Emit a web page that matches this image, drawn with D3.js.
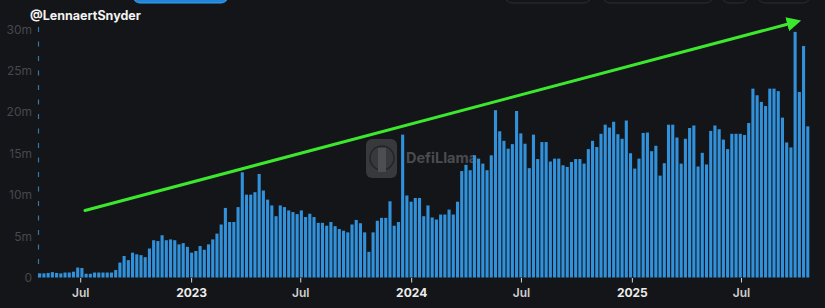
<!DOCTYPE html>
<html lang="en">
<head>
    <meta charset="UTF-8">
    <title>DefiLlama weekly volume</title>
    <script src="https://d3js.org/d3.v7.min.js"></script>
    <style>
        body {
            margin: 0;
            background: #141518;
            overflow: hidden;
        }
        svg {
            display: block;
            font-family: Inter, "Liberation Sans", sans-serif;
        }
    </style>
</head>
<body>
    <svg width="825" height="308"></svg>
    <script>
        // weekly values in millions
        const firstWeek = new Date(2022, 3, 24);
        const values = [
            0.5, 0.5, 0.55, 0.65, 0.55, 0.5, 0.6, 0.6, 0.7, 1.2,
            1.15, 0.45, 0.45, 0.6, 0.6, 0.6, 0.6, 0.6, 0.9, 1.8,
            2.6, 2.1, 3.0, 2.8, 2.7, 2.45, 3.5, 4.5, 4.4, 5.1,
            4.5, 4.6, 4.5, 4.0, 4.15, 3.7, 3.0, 3.2, 3.8, 3.35,
            4.0, 4.6, 5.3, 6.4, 8.4, 6.7, 6.7, 8.5, 12.7, 10.0,
            10.0, 10.3, 12.5, 10.5, 9.4, 8.7, 7.4, 8.7, 8.5, 8.1,
            7.9, 7.65, 8.1, 7.3, 7.7, 7.3, 6.6, 6.6, 6.25, 6.7,
            6.2, 5.85, 5.65, 5.45, 6.4, 6.95, 6.55, 5.45, 3.1, 5.45,
            6.85, 7.2, 7.2, 9.2, 6.25, 6.7, 17.25, 9.9, 9.15, 9.6,
            9.6, 7.4, 8.7, 7.25, 7.0, 7.6, 7.6, 8.2, 7.6, 9.15,
            12.85, 13.6, 12.95, 14.75, 14.35, 13.75, 12.95, 14.75, 20.2, 17.65,
            16.5, 15.55, 16.1, 20.1, 17.4, 16.15, 13.2, 17.25, 14.3, 16.35,
            16.35, 14.0, 14.35, 14.35, 13.55, 13.35, 13.95, 14.3, 14.3, 13.75,
            15.5, 16.5, 15.75, 17.35, 18.45, 18.1, 18.8, 17.3, 16.75, 18.95,
            15.0, 13.15, 14.35, 17.45, 17.5, 15.25, 15.9, 12.3, 13.8, 18.45,
            18.45, 16.9, 13.75, 16.75, 18.05, 18.35, 13.4, 15.05, 13.65, 17.7,
            18.35, 17.9, 16.65, 15.5, 17.35, 17.35, 17.35, 17.2, 18.65, 22.8,
            22.0, 21.2, 20.7, 22.8, 22.8, 22.5, 19.3, 16.3, 15.7, 29.65,
            22.4, 27.95, 18.25
        ];
        const tickDates = [
            new Date(2022, 6, 1), new Date(2023, 0, 1), new Date(2023, 6, 1),
            new Date(2024, 0, 1), new Date(2024, 6, 1), new Date(2025, 0, 1),
            new Date(2025, 6, 1)
        ];
        const tickLabels = ["Jul", "2023", "Jul", "2024", "Jul", "2025", "Jul"];
        const yTicks = [0, 5, 10, 15, 20, 25, 30];

        const weeks = d3.timeWeek.range(firstWeek, d3.timeWeek.offset(firstWeek, values.length));
        const data = values.map((v, i) => ({ date: weeks[i], value: v }));

        const svg = d3.select("svg");

        // top buttons, cut by the frame
        const buttons = [
            { x: 133, w: 95, fill: "#2186da", stroke: "#3aa0ee" },
            { x: 505, w: 86, fill: "none", stroke: "#2c2e33" },
            { x: 603, w: 110, fill: "none", stroke: "#2c2e33" },
            { x: 722, w: 26, fill: "none", stroke: "#2c2e33" },
            { x: 758, w: 52, fill: "none", stroke: "#2c2e33" }
        ];
        svg.selectAll(".btn").data(buttons).enter().append("rect")
            .attr("x", d => d.x).attr("y", -20)
            .attr("width", d => d.w).attr("height", 23)
            .attr("rx", 7)
            .attr("fill", d => d.fill).attr("stroke", d => d.stroke);

        svg.append("text")
            .attr("x", 30).attr("y", 20)
            .attr("fill", "#f2f2f2")
            .attr("font-size", 12.5)
            .attr("font-weight", 700)
            .text("@LennaertSnyder");

        const x = d3.scaleTime()
            .domain([new Date(2022, 3, 20), new Date(2025, 9, 24)])
            .range([37.3, 810.8]);
        const y = d3.scaleLinear().domain([0, 30]).range([277.5, 29]);

        // y labels
        svg.append("g").selectAll("text").data(yTicks).enter().append("text")
            .attr("x", 32).attr("y", d => y(d) + 4.5)
            .attr("text-anchor", "end")
            .attr("fill", "#45484e")
            .attr("font-size", 12)
            .text(d => d === 0 ? "0" : d + "m");

        // dashed left line
        svg.append("line")
            .attr("x1", 38.5).attr("x2", 38.5)
            .attr("y1", y(30) - 2).attr("y2", y(0))
            .attr("stroke", "#2c7ab0")
            .attr("stroke-width", 1.2)
            .attr("stroke-dasharray", "5,9.5");

        // watermark
        const wm = svg.append("g").attr("opacity", 0.6);
        wm.append("rect")
            .attr("x", 366).attr("y", 139).attr("width", 31).attr("height", 39)
            .attr("rx", 6).attr("fill", "#505154");
        wm.append("circle").attr("cx", 382).attr("cy", 158).attr("r", 12)
            .attr("fill", "none").attr("stroke", "#2e2f32").attr("stroke-width", 1.5);
        wm.append("rect")
            .attr("x", 378).attr("y", 148).attr("width", 8).attr("height", 24)
            .attr("fill", "#737477");
        wm.append("text")
            .attr("x", 406).attr("y", 163)
            .attr("fill", "#6e6f72")
            .attr("font-size", 14.5)
            .attr("font-weight", 700)
            .text("DefiLlama");

        // bars
        const barW = 3.1;
        svg.append("g").selectAll("rect").data(data).enter().append("rect")
            .attr("x", d => x(d.date) - barW / 2)
            .attr("y", d => y(d.value))
            .attr("width", barW)
            .attr("height", d => y(0) - y(d.value))
            .attr("fill", "#3191da");

        // x axis ticks and labels
        const xg = svg.append("g");
        xg.selectAll("line").data(tickDates).enter().append("line")
            .attr("x1", d => x(d)).attr("x2", d => x(d))
            .attr("y1", 278).attr("y2", 282.5)
            .attr("stroke", "#d8d8d8").attr("stroke-width", 1);
        xg.selectAll("text").data(tickDates).enter().append("text")
            .attr("x", d => x(d)).attr("y", 297)
            .attr("text-anchor", "middle")
            .attr("fill", (d, i) => tickLabels[i] === "Jul" ? "#cfcfcf" : "#ececec")
            .attr("font-size", 12)
            .attr("font-weight", (d, i) => tickLabels[i] === "Jul" ? 600 : 700)
            .text((d, i) => tickLabels[i]);

        // green trend arrow
        svg.append("defs").append("marker")
            .attr("id", "head")
            .attr("viewBox", "0 0 10 10")
            .attr("refX", 2).attr("refY", 5)
            .attr("markerWidth", 4.8).attr("markerHeight", 4.8)
            .attr("orient", "auto")
            .append("path")
            .attr("d", "M0,0 L10,5 L0,10 Z")
            .attr("fill", "#3ce82e");
        svg.append("line")
            .attr("x1", 85).attr("y1", 210.5)
            .attr("x2", 790).attr("y2", 23.5)
            .attr("stroke", "#3ce82e")
            .attr("stroke-width", 3)
            .attr("stroke-linecap", "round")
            .attr("marker-end", "url(#head)");
    </script>
</body>
</html>
